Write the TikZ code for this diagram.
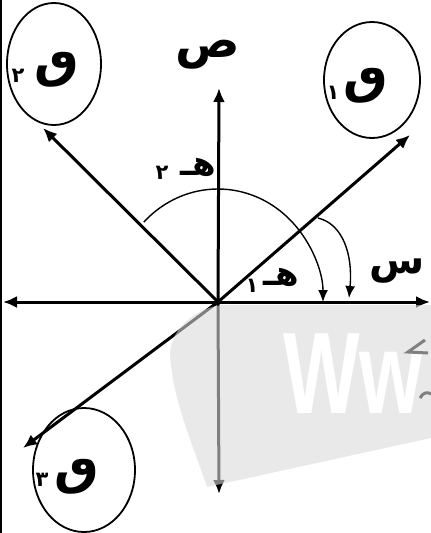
\documentclass[tikz,border=0pt]{standalone}
\usepackage{fontspec}
\usetikzlibrary{arrows.meta,shapes.geometric,calc}
\TeXXeTstate=1
\newfontfamily\arabicfont[Script=Arabic]{DejaVu Sans}
\setmainfont{Liberation Sans}
\begin{document}
\begin{tikzpicture}[x=1pt,y=-1pt,
  ax/.style={line width=3pt,-{Latex[length=14pt,width=12pt]}},
  vec/.style={line width=3pt,-{Latex[length=14pt,width=12pt]}},
  arcline/.style={line width=1.4pt,-{Latex[length=12pt,width=10pt]}},
  bubble/.style={draw,ellipse,line width=1.8pt,inner sep=0pt},
  arbig/.style={font=\arabicfont\bfseries\fontsize{50}{50}\selectfont,inner sep=0pt},
  araxis/.style={font=\arabicfont\bfseries\fontsize{48}{48}\selectfont,inner sep=0pt},
  arangle/.style={font=\arabicfont\bfseries\fontsize{34}{34}\selectfont,inner sep=0pt},
  arsmall/.style={font=\arabicfont\bfseries\fontsize{21}{21}\selectfont,inner sep=0pt},
  wm/.style={fill=black!15,fill opacity=0.59,draw=none},
  wmline/.style={draw=black!50,line width=3pt}
]
\useasboundingbox (0,0) rectangle (431,533);
% left border
\draw[line width=2pt] (1,0) -- (1,533);
% circles
\node[bubble,minimum width=94pt,minimum height=122pt] (c2) at (54,64) {};
\node[bubble,minimum width=96pt,minimum height=116pt] (c1) at (372,80) {};
\node[bubble,minimum width=102pt,minimum height=124pt] (c3) at (84,470) {};
\node[arbig] (q2) at (57,70) {\beginR ٯ\endR};
\node[arsmall] (d2) at (18,76) {\beginR ٢\endR};
\node[arbig] (q1) at (366,86) {\beginR ٯ\endR};
\node[arsmall] (d1) at (333,93) {\beginR ١\endR};
\node[arbig] (q3) at (77,477) {\beginR ٯ\endR};
\node[arsmall] (d3) at (42,480) {\beginR ٣\endR};
% axes
\coordinate (O) at (218,302);
\coordinate (L) at (3,302);
\coordinate (R) at (430,302);
\coordinate (T) at (219,88);
\coordinate (B) at (219,494);
\coordinate (UR) at (410,135);
\coordinate (UL) at (43,128);
\coordinate (LL) at (23,448);
\draw[ax] (O) -- (L);
\draw[ax] (O) -- (R);
\draw[ax] (O) -- (T);
\draw[ax] (O) -- (B);
\draw[vec] (O) -- (UR);
\draw[vec] (O) -- (UL);
\draw[vec] (O) -- (LL);
% axis labels
\node[araxis] (ys) at (208,55) {\beginR ص\endR};
\node[arangle,font=\arabicfont\bfseries\fontsize{40}{40}\selectfont] (xs) at (397,271) {\beginR س\endR};
% angles
\draw[arcline] ($(O)+(135:105pt and 113pt)$) arc[start angle=135,end angle=0,x radius=105pt,y radius=113pt];
\coordinate (a1s) at (318,218);
\coordinate (a1e) at (349,298);
\draw[arcline] (a1s) .. controls (343,224) and (353,255) .. (a1e);
\node[arangle] (h2) at (198,167) {\beginR هـ\endR};
\node[arsmall] (h2d) at (162,173) {\beginR ٢\endR};
\node[arangle] (h1) at (281,277) {\beginR هـ\endR};
\node[arsmall] (h1d) at (252,286) {\beginR ١\endR};
% watermark
\fill[wm] (223,305) -- (431,305) -- (431,438) -- (207,487)
  .. controls (195,450) and (172,400) .. (170,353)
  .. controls (172,325) and (200,307) .. cycle;
\node[anchor=base west,inner sep=0pt,text=white,font=\bfseries\fontsize{116}{116}\selectfont,xscale=0.7] (wmt) at (283,413) {Ww};
\draw[wmline] (425,340) -- (408,352) -- (428,353);
\draw[wmline] (420,398) .. controls (423,392) and (428,392) .. (431,394);
\end{tikzpicture}
\end{document}
